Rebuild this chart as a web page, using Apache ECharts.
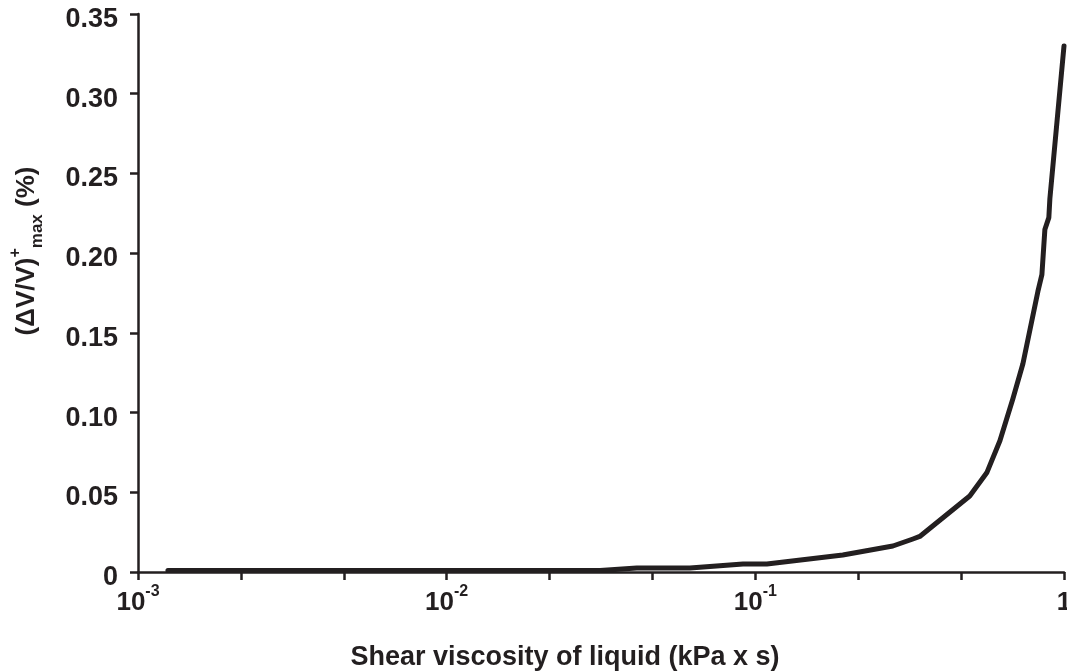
<!DOCTYPE html>
<html>
<head>
<meta charset="utf-8">
<script src="https://cdn.jsdelivr.net/npm/echarts@6/dist/echarts.min.js"></script>
<style>
  html, body { margin: 0; padding: 0; background: #fff; }
  #main { width: 1067px; height: 672px; }
</style>
</head>
<body>
<div id="main"></div>
<script>
// shear viscosity (kPa x s) and (dV/V)+max (%)
const viscosity = [0.00125, 0.01, 0.0314, 0.0413, 0.0614, 0.0912, 0.109, 0.192, 0.279, 0.324, 0.341,
    0.495, 0.562, 0.62, 0.683, 0.736, 0.823, 0.848, 0.867, 0.893, 0.9, 1.0]
const dvMax = [0.001, 0.001, 0.001, 0.0025, 0.0025, 0.005, 0.005, 0.0107, 0.0163, 0.0207, 0.0223,
    0.0477, 0.0622, 0.0823, 0.1087, 0.1306, 0.176, 0.1865, 0.2148, 0.2223, 0.2342, 0.330]
const yTicks = [0, 0.05, 0.10, 0.15, 0.20, 0.25, 0.30, 0.35]
const xDecades = [-3, -2, -1, 0]

const ink = '#231f20'
const font = 'Arial, "Liberation Sans", sans-serif'

let points = viscosity.map((v, i) => [Math.log10(v), dvMax[i]])

let myChart = echarts.init(document.getElementById('main'))
myChart.setOption({
    animation: false,
    grid: { left: 138, right: 3, top: 14, bottom: 100, containLabel: false, outerBoundsMode: 'none' },
    xAxis: {
        type: 'value',
        min: xDecades[0],
        max: xDecades[xDecades.length - 1],
        interval: 1,
        name: 'Shear viscosity of liquid (kPa x s)',
        nameLocation: 'middle',
        nameGap: 72,
        nameTextStyle: { color: ink, fontFamily: font, fontWeight: 'bold', fontSize: 27, padding: [0, 72, 0, 0] },
        axisLine: { onZero: false, lineStyle: { color: ink, width: 2.5 } },
        axisTick: { inside: false, length: 8, lineStyle: { color: ink, width: 2.5 } },
        minorTick: { show: true, splitNumber: 3, length: 8, lineStyle: { color: ink, width: 2.5 } },
        splitLine: { show: false },
        axisLabel: {
            margin: 12,
            color: ink,
            formatter: function (v) {
                let p = Math.round(v)
                return p === 0 ? '{b|1}' : '{b|10}{s|' + p + '}'
            },
            rich: {
                b: { fontFamily: font, fontWeight: 'bold', fontSize: 26, color: ink, lineHeight: 32, verticalAlign: 'bottom' },
                s: { fontFamily: font, fontWeight: 'bold', fontSize: 16, color: ink, lineHeight: 32, verticalAlign: 'top' }
            }
        }
    },
    yAxis: {
        type: 'value',
        min: yTicks[0],
        max: yTicks[yTicks.length - 1],
        interval: 0.05,
        name: '{b|(ΔV/V)}{s|+}{u|max}{b| (%)}',
        nameLocation: 'middle',
        nameGap: 92,
        nameTextStyle: {
            color: ink,
            padding: [0, 0, 0, 84],
            rich: {
                b: { fontFamily: font, fontWeight: 'bold', fontSize: 26, color: ink, lineHeight: 38, verticalAlign: 'middle' },
                s: { fontFamily: font, fontWeight: 'bold', fontSize: 16, color: ink, lineHeight: 38, verticalAlign: 'top' },
                u: { fontFamily: font, fontWeight: 'bold', fontSize: 17, color: ink, lineHeight: 38, verticalAlign: 'bottom' }
            }
        },
        axisLine: { show: true, onZero: false, lineStyle: { color: ink, width: 2.5 } },
        axisTick: { show: true, inside: false, length: 8, lineStyle: { color: ink, width: 2.5 } },
        splitLine: { show: false },
        axisLabel: {
            margin: 20,
            color: ink,
            formatter: v => '{n|' + (v === 0 ? '0' : v.toFixed(2)) + '}',
            rich: {
                n: { fontFamily: font, fontWeight: 'bold', fontSize: 27, color: ink, padding: [11, 0, 0, 0] }
            }
        }
    },
    series: [
        {
            type: 'line',
            data: points,
            symbol: 'none',
            smooth: false,
            lineStyle: { color: ink, width: 5, cap: 'round', join: 'round' }
        }
    ]
})
</script>
</body>
</html>
